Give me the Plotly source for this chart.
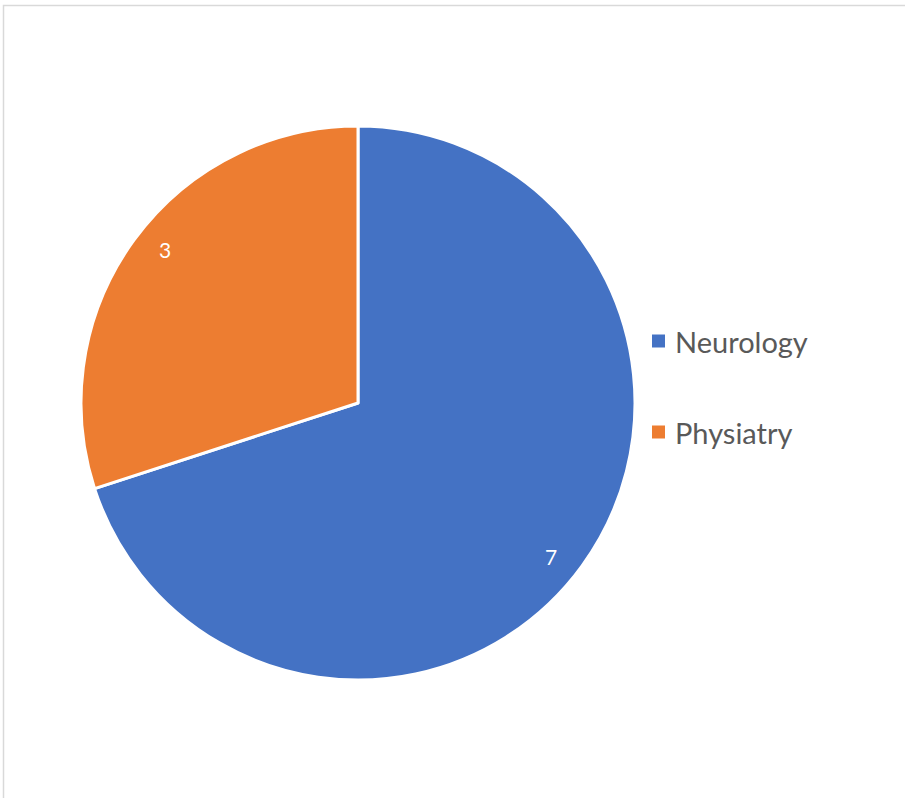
import math
import plotly.graph_objects as go

labels = ["Neurology", "Physiatry"]
values = [7, 3]
colors = ["#4472C4", "#ED7D31"]

W, H = 905, 798
cx_px, cy_px, r_px = 358, 403, 277

dom_x = [(cx_px - r_px) / W, (cx_px + r_px) / W]
dom_y = [1 - (cy_px + r_px) / H, 1 - (cy_px - r_px) / H]

fig = go.Figure(go.Pie(
    labels=labels, values=values, sort=False, direction="clockwise", rotation=0,
    marker=dict(colors=colors, line=dict(color="white", width=3)),
    textinfo="none", hoverinfo="label+value", showlegend=False,
    domain=dict(x=dom_x, y=dom_y),
))

annotations = []
total = sum(values)
cum = 0.0
for lab, v in zip(labels, values):
    mid = (cum + v / 2) / total * 2 * math.pi + math.radians(2.4)
    cum += v
    px = cx_px + 0.89 * r_px * math.sin(mid)
    py = cy_px - 0.89 * r_px * math.cos(mid)
    annotations.append(dict(x=px / W, y=1 - py / H, xref="paper", yref="paper",
                            xanchor="center", yanchor="middle",
                            text=str(v), showarrow=False,
                            font=dict(family="Lato", size=21, color="white")))

shapes = [dict(type="rect", xref="paper", yref="paper",
               x0=3.5 / W, x1=1.02, y0=-0.02, y1=1 - 5.5 / H,
               line=dict(color="#D9D9D9", width=1.5), fillcolor="rgba(0,0,0,0)")]

leg_y = [341, 432]
for lab, col, ly in zip(labels, colors, leg_y):
    shapes.append(dict(type="rect", xref="paper", yref="paper",
                       x0=652 / W, x1=665 / W, y0=1 - (ly + 6.5) / H, y1=1 - (ly - 6.5) / H,
                       line=dict(width=0), fillcolor=col))
    annotations.append(dict(x=673 / W, y=1 - (ly + 0) / H, xref="paper", yref="paper",
                            xanchor="left", yanchor="middle", text=lab, showarrow=False,
                            font=dict(family="Lato", size=29, color="#595959")))

fig.update_layout(width=W, height=H, margin=dict(l=0, r=0, t=0, b=0),
                  paper_bgcolor="white", plot_bgcolor="white",
                  annotations=annotations, shapes=shapes)

fig.write_html("out.html", config={"displayModeBar": False},
               post_script="document.body.style.margin='0';document.body.style.padding='0';")
